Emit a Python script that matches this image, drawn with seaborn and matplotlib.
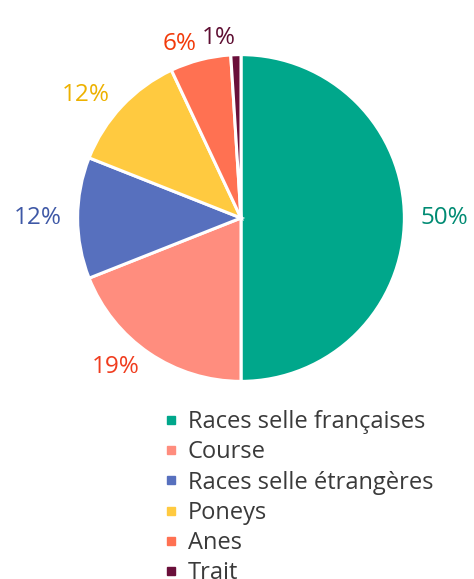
import matplotlib
matplotlib.use("Agg")
import matplotlib.pyplot as plt
from matplotlib.lines import Line2D
import seaborn as sns

categories = ["Races selle françaises", "Course", "Races selle étrangères", "Poneys", "Anes", "Trait"]
values = [50, 19, 12, 12, 6, 1]
slice_colors = ["#00A78B", "#FF8D7E", "#5770BE", "#FFCA40", "#FF7152", "#6A0F3A"]
label_colors = ["#008B73", "#F03C1E", "#3E58A6", "#EDB100", "#F23A0A", "#5E0E32"]

sns.set_theme(style="white")
plt.rcParams["font.family"] = ["Open Sans", "DejaVu Sans"]

fig = plt.figure(figsize=(4.74, 5.79), dpi=100)
ax = fig.add_axes([(241 - 165) / 474, (579 - 383) / 579, 330 / 474, 330 / 579])

total = sum(values)
pct_labels = [f"{round(v * 100 / total)}%" for v in values]
wedges, texts = ax.pie(
    values,
    labels=pct_labels,
    colors=slice_colors,
    startangle=90,
    counterclock=False,
    labeldistance=1.1,
    radius=1,
    wedgeprops=dict(edgecolor="white", linewidth=2.2),
    textprops=dict(fontsize=17.5),
)
for t, c in zip(texts, label_colors):
    t.set_color(c)
ax.set_xlim(-1.01, 1.01)
ax.set_ylim(-1.01, 1.01)
ax.set_aspect("equal")
ax.axis("off")

handles = [Line2D([], [], marker="s", linestyle="none", markersize=6,
                  markerfacecolor=c, markeredgecolor=c) for c in slice_colors]
leg = fig.legend(handles, categories, loc="upper left",
                 bbox_to_anchor=(164 / 474, 1 - 410 / 579),
                 frameon=False, fontsize=17, handlelength=0.6,
                 handletextpad=0.4, labelspacing=0.265, borderpad=0, borderaxespad=0)
for t in leg.get_texts():
    t.set_color("#3A3A3A")

fig.savefig("out.png", dpi=100)
